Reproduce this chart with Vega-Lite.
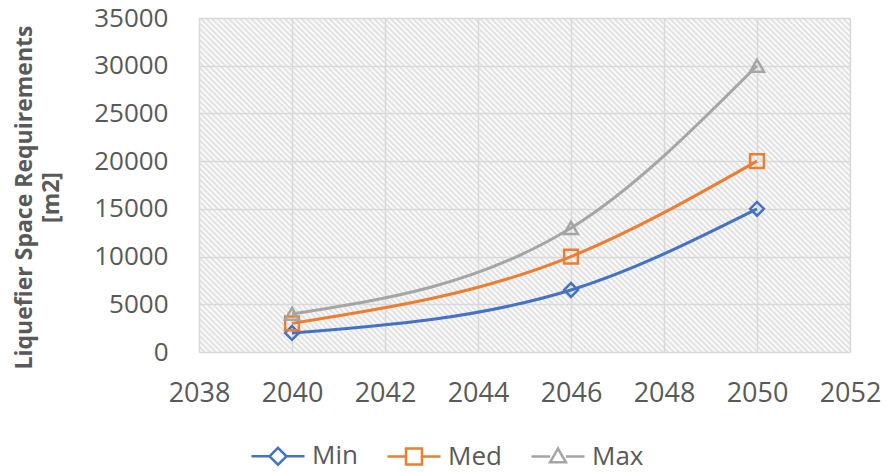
{
  "$schema": "https://vega.github.io/schema/vega-lite/v6.json",
  "autosize": "none",
  "width": 651,
  "height": 334,
  "padding": {"left": 199, "top": 18, "right": 35, "bottom": 120},
  "background": "white",
  "config": {
    "font": "Open Sans",
    "view": {
      "stroke": null,
      "fill": {
        "gradient": "linear",
        "x1": 0, "y1": 1, "x2": 1.3584, "y2": 0.303,
        "stops": [
          {"offset":0,"color":"#ddd"},{"offset":0.0025,"color":"#fff"},
          {"offset":0.005,"color":"#ddd"},{"offset":0.0075,"color":"#fff"},
          {"offset":0.01,"color":"#ddd"},{"offset":0.0125,"color":"#fff"},
          {"offset":0.015,"color":"#ddd"},{"offset":0.0175,"color":"#fff"},
          {"offset":0.02,"color":"#ddd"},{"offset":0.0225,"color":"#fff"},
          {"offset":0.025,"color":"#ddd"},{"offset":0.0275,"color":"#fff"},
          {"offset":0.03,"color":"#ddd"},{"offset":0.0325,"color":"#fff"},
          {"offset":0.035,"color":"#ddd"},{"offset":0.0375,"color":"#fff"},
          {"offset":0.04,"color":"#ddd"},{"offset":0.0425,"color":"#fff"},
          {"offset":0.045,"color":"#ddd"},{"offset":0.0475,"color":"#fff"},
          {"offset":0.05,"color":"#ddd"},{"offset":0.0525,"color":"#fff"},
          {"offset":0.055,"color":"#ddd"},{"offset":0.0575,"color":"#fff"},
          {"offset":0.06,"color":"#ddd"},{"offset":0.0625,"color":"#fff"},
          {"offset":0.065,"color":"#ddd"},{"offset":0.0675,"color":"#fff"},
          {"offset":0.07,"color":"#ddd"},{"offset":0.0725,"color":"#fff"},
          {"offset":0.075,"color":"#ddd"},{"offset":0.0775,"color":"#fff"},
          {"offset":0.08,"color":"#ddd"},{"offset":0.0825,"color":"#fff"},
          {"offset":0.085,"color":"#ddd"},{"offset":0.0875,"color":"#fff"},
          {"offset":0.09,"color":"#ddd"},{"offset":0.0925,"color":"#fff"},
          {"offset":0.095,"color":"#ddd"},{"offset":0.0975,"color":"#fff"},
          {"offset":0.1,"color":"#ddd"},{"offset":0.1025,"color":"#fff"},
          {"offset":0.105,"color":"#ddd"},{"offset":0.1075,"color":"#fff"},
          {"offset":0.11,"color":"#ddd"},{"offset":0.1125,"color":"#fff"},
          {"offset":0.115,"color":"#ddd"},{"offset":0.1175,"color":"#fff"},
          {"offset":0.12,"color":"#ddd"},{"offset":0.1225,"color":"#fff"},
          {"offset":0.125,"color":"#ddd"},{"offset":0.1275,"color":"#fff"},
          {"offset":0.13,"color":"#ddd"},{"offset":0.1325,"color":"#fff"},
          {"offset":0.135,"color":"#ddd"},{"offset":0.1375,"color":"#fff"},
          {"offset":0.14,"color":"#ddd"},{"offset":0.1425,"color":"#fff"},
          {"offset":0.145,"color":"#ddd"},{"offset":0.1475,"color":"#fff"},
          {"offset":0.15,"color":"#ddd"},{"offset":0.1525,"color":"#fff"},
          {"offset":0.155,"color":"#ddd"},{"offset":0.1575,"color":"#fff"},
          {"offset":0.16,"color":"#ddd"},{"offset":0.1625,"color":"#fff"},
          {"offset":0.165,"color":"#ddd"},{"offset":0.1675,"color":"#fff"},
          {"offset":0.17,"color":"#ddd"},{"offset":0.1725,"color":"#fff"},
          {"offset":0.175,"color":"#ddd"},{"offset":0.1775,"color":"#fff"},
          {"offset":0.18,"color":"#ddd"},{"offset":0.1825,"color":"#fff"},
          {"offset":0.185,"color":"#ddd"},{"offset":0.1875,"color":"#fff"},
          {"offset":0.19,"color":"#ddd"},{"offset":0.1925,"color":"#fff"},
          {"offset":0.195,"color":"#ddd"},{"offset":0.1975,"color":"#fff"},
          {"offset":0.2,"color":"#ddd"},{"offset":0.2025,"color":"#fff"},
          {"offset":0.205,"color":"#ddd"},{"offset":0.2075,"color":"#fff"},
          {"offset":0.21,"color":"#ddd"},{"offset":0.2125,"color":"#fff"},
          {"offset":0.215,"color":"#ddd"},{"offset":0.2175,"color":"#fff"},
          {"offset":0.22,"color":"#ddd"},{"offset":0.2225,"color":"#fff"},
          {"offset":0.225,"color":"#ddd"},{"offset":0.2275,"color":"#fff"},
          {"offset":0.23,"color":"#ddd"},{"offset":0.2325,"color":"#fff"},
          {"offset":0.235,"color":"#ddd"},{"offset":0.2375,"color":"#fff"},
          {"offset":0.24,"color":"#ddd"},{"offset":0.2425,"color":"#fff"},
          {"offset":0.245,"color":"#ddd"},{"offset":0.2475,"color":"#fff"},
          {"offset":0.25,"color":"#ddd"},{"offset":0.2525,"color":"#fff"},
          {"offset":0.255,"color":"#ddd"},{"offset":0.2575,"color":"#fff"},
          {"offset":0.26,"color":"#ddd"},{"offset":0.2625,"color":"#fff"},
          {"offset":0.265,"color":"#ddd"},{"offset":0.2675,"color":"#fff"},
          {"offset":0.27,"color":"#ddd"},{"offset":0.2725,"color":"#fff"},
          {"offset":0.275,"color":"#ddd"},{"offset":0.2775,"color":"#fff"},
          {"offset":0.28,"color":"#ddd"},{"offset":0.2825,"color":"#fff"},
          {"offset":0.285,"color":"#ddd"},{"offset":0.2875,"color":"#fff"},
          {"offset":0.29,"color":"#ddd"},{"offset":0.2925,"color":"#fff"},
          {"offset":0.295,"color":"#ddd"},{"offset":0.2975,"color":"#fff"},
          {"offset":0.3,"color":"#ddd"},{"offset":0.3025,"color":"#fff"},
          {"offset":0.305,"color":"#ddd"},{"offset":0.3075,"color":"#fff"},
          {"offset":0.31,"color":"#ddd"},{"offset":0.3125,"color":"#fff"},
          {"offset":0.315,"color":"#ddd"},{"offset":0.3175,"color":"#fff"},
          {"offset":0.32,"color":"#ddd"},{"offset":0.3225,"color":"#fff"},
          {"offset":0.325,"color":"#ddd"},{"offset":0.3275,"color":"#fff"},
          {"offset":0.33,"color":"#ddd"},{"offset":0.3325,"color":"#fff"},
          {"offset":0.335,"color":"#ddd"},{"offset":0.3375,"color":"#fff"},
          {"offset":0.34,"color":"#ddd"},{"offset":0.3425,"color":"#fff"},
          {"offset":0.345,"color":"#ddd"},{"offset":0.3475,"color":"#fff"},
          {"offset":0.35,"color":"#ddd"},{"offset":0.3525,"color":"#fff"},
          {"offset":0.355,"color":"#ddd"},{"offset":0.3575,"color":"#fff"},
          {"offset":0.36,"color":"#ddd"},{"offset":0.3625,"color":"#fff"},
          {"offset":0.365,"color":"#ddd"},{"offset":0.3675,"color":"#fff"},
          {"offset":0.37,"color":"#ddd"},{"offset":0.3725,"color":"#fff"},
          {"offset":0.375,"color":"#ddd"},{"offset":0.3775,"color":"#fff"},
          {"offset":0.38,"color":"#ddd"},{"offset":0.3825,"color":"#fff"},
          {"offset":0.385,"color":"#ddd"},{"offset":0.3875,"color":"#fff"},
          {"offset":0.39,"color":"#ddd"},{"offset":0.3925,"color":"#fff"},
          {"offset":0.395,"color":"#ddd"},{"offset":0.3975,"color":"#fff"},
          {"offset":0.4,"color":"#ddd"},{"offset":0.4025,"color":"#fff"},
          {"offset":0.405,"color":"#ddd"},{"offset":0.4075,"color":"#fff"},
          {"offset":0.41,"color":"#ddd"},{"offset":0.4125,"color":"#fff"},
          {"offset":0.415,"color":"#ddd"},{"offset":0.4175,"color":"#fff"},
          {"offset":0.42,"color":"#ddd"},{"offset":0.4225,"color":"#fff"},
          {"offset":0.425,"color":"#ddd"},{"offset":0.4275,"color":"#fff"},
          {"offset":0.43,"color":"#ddd"},{"offset":0.4325,"color":"#fff"},
          {"offset":0.435,"color":"#ddd"},{"offset":0.4375,"color":"#fff"},
          {"offset":0.44,"color":"#ddd"},{"offset":0.4425,"color":"#fff"},
          {"offset":0.445,"color":"#ddd"},{"offset":0.4475,"color":"#fff"},
          {"offset":0.45,"color":"#ddd"},{"offset":0.4525,"color":"#fff"},
          {"offset":0.455,"color":"#ddd"},{"offset":0.4575,"color":"#fff"},
          {"offset":0.46,"color":"#ddd"},{"offset":0.4625,"color":"#fff"},
          {"offset":0.465,"color":"#ddd"},{"offset":0.4675,"color":"#fff"},
          {"offset":0.47,"color":"#ddd"},{"offset":0.4725,"color":"#fff"},
          {"offset":0.475,"color":"#ddd"},{"offset":0.4775,"color":"#fff"},
          {"offset":0.48,"color":"#ddd"},{"offset":0.4825,"color":"#fff"},
          {"offset":0.485,"color":"#ddd"},{"offset":0.4875,"color":"#fff"},
          {"offset":0.49,"color":"#ddd"},{"offset":0.4925,"color":"#fff"},
          {"offset":0.495,"color":"#ddd"},{"offset":0.4975,"color":"#fff"},
          {"offset":0.5,"color":"#ddd"},{"offset":0.5025,"color":"#fff"},
          {"offset":0.505,"color":"#ddd"},{"offset":0.5075,"color":"#fff"},
          {"offset":0.51,"color":"#ddd"},{"offset":0.5125,"color":"#fff"},
          {"offset":0.515,"color":"#ddd"},{"offset":0.5175,"color":"#fff"},
          {"offset":0.52,"color":"#ddd"},{"offset":0.5225,"color":"#fff"},
          {"offset":0.525,"color":"#ddd"},{"offset":0.5275,"color":"#fff"},
          {"offset":0.53,"color":"#ddd"},{"offset":0.5325,"color":"#fff"},
          {"offset":0.535,"color":"#ddd"},{"offset":0.5375,"color":"#fff"},
          {"offset":0.54,"color":"#ddd"},{"offset":0.5425,"color":"#fff"},
          {"offset":0.545,"color":"#ddd"},{"offset":0.5475,"color":"#fff"},
          {"offset":0.55,"color":"#ddd"},{"offset":0.5525,"color":"#fff"},
          {"offset":0.555,"color":"#ddd"},{"offset":0.5575,"color":"#fff"},
          {"offset":0.56,"color":"#ddd"},{"offset":0.5625,"color":"#fff"},
          {"offset":0.565,"color":"#ddd"},{"offset":0.5675,"color":"#fff"},
          {"offset":0.57,"color":"#ddd"},{"offset":0.5725,"color":"#fff"},
          {"offset":0.575,"color":"#ddd"},{"offset":0.5775,"color":"#fff"},
          {"offset":0.58,"color":"#ddd"},{"offset":0.5825,"color":"#fff"},
          {"offset":0.585,"color":"#ddd"},{"offset":0.5875,"color":"#fff"},
          {"offset":0.59,"color":"#ddd"},{"offset":0.5925,"color":"#fff"},
          {"offset":0.595,"color":"#ddd"},{"offset":0.5975,"color":"#fff"},
          {"offset":0.6,"color":"#ddd"},{"offset":0.6025,"color":"#fff"},
          {"offset":0.605,"color":"#ddd"},{"offset":0.6075,"color":"#fff"},
          {"offset":0.61,"color":"#ddd"},{"offset":0.6125,"color":"#fff"},
          {"offset":0.615,"color":"#ddd"},{"offset":0.6175,"color":"#fff"},
          {"offset":0.62,"color":"#ddd"},{"offset":0.6225,"color":"#fff"},
          {"offset":0.625,"color":"#ddd"},{"offset":0.6275,"color":"#fff"},
          {"offset":0.63,"color":"#ddd"},{"offset":0.6325,"color":"#fff"},
          {"offset":0.635,"color":"#ddd"},{"offset":0.6375,"color":"#fff"},
          {"offset":0.64,"color":"#ddd"},{"offset":0.6425,"color":"#fff"},
          {"offset":0.645,"color":"#ddd"},{"offset":0.6475,"color":"#fff"},
          {"offset":0.65,"color":"#ddd"},{"offset":0.6525,"color":"#fff"},
          {"offset":0.655,"color":"#ddd"},{"offset":0.6575,"color":"#fff"},
          {"offset":0.66,"color":"#ddd"},{"offset":0.6625,"color":"#fff"},
          {"offset":0.665,"color":"#ddd"},{"offset":0.6675,"color":"#fff"},
          {"offset":0.67,"color":"#ddd"},{"offset":0.6725,"color":"#fff"},
          {"offset":0.675,"color":"#ddd"},{"offset":0.6775,"color":"#fff"},
          {"offset":0.68,"color":"#ddd"},{"offset":0.6825,"color":"#fff"},
          {"offset":0.685,"color":"#ddd"},{"offset":0.6875,"color":"#fff"},
          {"offset":0.69,"color":"#ddd"},{"offset":0.6925,"color":"#fff"},
          {"offset":0.695,"color":"#ddd"},{"offset":0.6975,"color":"#fff"},
          {"offset":0.7,"color":"#ddd"},{"offset":0.7025,"color":"#fff"},
          {"offset":0.705,"color":"#ddd"},{"offset":0.7075,"color":"#fff"},
          {"offset":0.71,"color":"#ddd"},{"offset":0.7125,"color":"#fff"},
          {"offset":0.715,"color":"#ddd"},{"offset":0.7175,"color":"#fff"},
          {"offset":0.72,"color":"#ddd"},{"offset":0.7225,"color":"#fff"},
          {"offset":0.725,"color":"#ddd"},{"offset":0.7275,"color":"#fff"},
          {"offset":0.73,"color":"#ddd"},{"offset":0.7325,"color":"#fff"},
          {"offset":0.735,"color":"#ddd"},{"offset":0.7375,"color":"#fff"},
          {"offset":0.74,"color":"#ddd"},{"offset":0.7425,"color":"#fff"},
          {"offset":0.745,"color":"#ddd"},{"offset":0.7475,"color":"#fff"},
          {"offset":0.75,"color":"#ddd"},{"offset":0.7525,"color":"#fff"},
          {"offset":0.755,"color":"#ddd"},{"offset":0.7575,"color":"#fff"},
          {"offset":0.76,"color":"#ddd"},{"offset":0.7625,"color":"#fff"},
          {"offset":0.765,"color":"#ddd"},{"offset":0.7675,"color":"#fff"},
          {"offset":0.77,"color":"#ddd"},{"offset":0.7725,"color":"#fff"},
          {"offset":0.775,"color":"#ddd"},{"offset":0.7775,"color":"#fff"},
          {"offset":0.78,"color":"#ddd"},{"offset":0.7825,"color":"#fff"},
          {"offset":0.785,"color":"#ddd"},{"offset":0.7875,"color":"#fff"},
          {"offset":0.79,"color":"#ddd"},{"offset":0.7925,"color":"#fff"},
          {"offset":0.795,"color":"#ddd"},{"offset":0.7975,"color":"#fff"},
          {"offset":0.8,"color":"#ddd"},{"offset":0.8025,"color":"#fff"},
          {"offset":0.805,"color":"#ddd"},{"offset":0.8075,"color":"#fff"},
          {"offset":0.81,"color":"#ddd"},{"offset":0.8125,"color":"#fff"},
          {"offset":0.815,"color":"#ddd"},{"offset":0.8175,"color":"#fff"},
          {"offset":0.82,"color":"#ddd"},{"offset":0.8225,"color":"#fff"},
          {"offset":0.825,"color":"#ddd"},{"offset":0.8275,"color":"#fff"},
          {"offset":0.83,"color":"#ddd"},{"offset":0.8325,"color":"#fff"},
          {"offset":0.835,"color":"#ddd"},{"offset":0.8375,"color":"#fff"},
          {"offset":0.84,"color":"#ddd"},{"offset":0.8425,"color":"#fff"},
          {"offset":0.845,"color":"#ddd"},{"offset":0.8475,"color":"#fff"},
          {"offset":0.85,"color":"#ddd"},{"offset":0.8525,"color":"#fff"},
          {"offset":0.855,"color":"#ddd"},{"offset":0.8575,"color":"#fff"},
          {"offset":0.86,"color":"#ddd"},{"offset":0.8625,"color":"#fff"},
          {"offset":0.865,"color":"#ddd"},{"offset":0.8675,"color":"#fff"},
          {"offset":0.87,"color":"#ddd"},{"offset":0.8725,"color":"#fff"},
          {"offset":0.875,"color":"#ddd"},{"offset":0.8775,"color":"#fff"},
          {"offset":0.88,"color":"#ddd"},{"offset":0.8825,"color":"#fff"},
          {"offset":0.885,"color":"#ddd"},{"offset":0.8875,"color":"#fff"},
          {"offset":0.89,"color":"#ddd"},{"offset":0.8925,"color":"#fff"}
        ]
      }
    },
    "axis": {
      "labelFont": "Open Sans",
      "labelFontSize": 27,
      "labelColor": "#595959",
      "labelFlush": false,
      "gridColor": "#d9d9d9",
      "gridWidth": 1.5,
      "domain": false,
      "ticks": false
    },
    "legend": {"padding": 0}
  },
  "data": {
    "values": [
      {"year": 2040, "series": "Min", "value": 2000},
      {"year": 2046, "series": "Min", "value": 6500},
      {"year": 2050, "series": "Min", "value": 15000},
      {"year": 2040, "series": "Med", "value": 3000},
      {"year": 2046, "series": "Med", "value": 10000},
      {"year": 2050, "series": "Med", "value": 20000},
      {"year": 2040, "series": "Max", "value": 4000},
      {"year": 2046, "series": "Max", "value": 13000},
      {"year": 2050, "series": "Max", "value": 30000}
    ]
  },
  "encoding": {
    "x": {
      "field": "year",
      "type": "quantitative",
      "scale": {"domain": [2038, 2052], "nice": false, "zero": false},
      "axis": {
        "values": [2038, 2040, 2042, 2044, 2046, 2048, 2050, 2052],
        "format": "d",
        "title": null,
        "labelPadding": 28
      }
    },
    "y": {
      "field": "value",
      "type": "quantitative",
      "scale": {"domain": [0, 35000], "nice": false},
      "axis": {
        "values": [0, 5000, 10000, 15000, 20000, 25000, 30000, 35000],
        "format": "d",
        "labelFontSize": 26,
        "labelPadding": 31,
        "title": ["Liquefier Space Requirements", "[m2]"],
        "titleFont": "Open Sans",
        "titleFontSize": 23,
        "titleFontWeight": "bold",
        "titleColor": "#595959",
        "titleLineHeight": 27,
        "titlePadding": 30,
        "titleY": 179
      }
    }
  },
  "layer": [
    {
      "mark": {"type": "line", "interpolate": "monotone", "strokeWidth": 3},
      "encoding": {
        "color": {
          "field": "series",
          "type": "nominal",
          "sort": ["Min", "Med", "Max"],
          "scale": {"domain": ["Min", "Med", "Max"], "range": ["#4472c4", "#ed7d31", "#a5a5a5"]},
          "legend": {
            "orient": "none",
            "direction": "horizontal",
            "legendX": 51,
            "legendY": 410,
            "title": null,
            "labelFont": "Open Sans",
            "labelFontSize": 26,
            "labelColor": "#595959",
            "labelOffset": 6,
            "columnPadding": 24,
            "symbolSize": 2809,
            "symbolStrokeWidth": 2.5,
            "symbolFillColor": "transparent",
            "encode": {
              "symbols": {
                "update": {
                  "shape": {"signal": "datum.value === 'Min' ? 'M-1,0L-0.32,0M0.32,0L1,0M0,-0.32L0.32,0L0,0.32L-0.32,0Z' : datum.value === 'Med' ? 'M-1,0L-0.3,0M0.3,0L1,0M-0.3,-0.3L0.3,-0.3L0.3,0.3L-0.3,0.3Z' : 'M-1,0L-0.3,0M0.3,0L1,0M0,-0.3L0.3,0.22L-0.3,0.22Z'"},
                  "fill": {"value": "transparent"},
                  "strokeWidth": {"value": 2.5}
                }
              }
            }
          }
        }
      }
    },
    {
      "transform": [{"filter": "datum.series === 'Min'"}],
      "mark": {"type": "point", "shape": "diamond", "filled": false, "stroke": "#4472c4", "strokeWidth": 2.5, "opacity": 1, "size": 190}
    },
    {
      "transform": [{"filter": "datum.series === 'Med'"}],
      "mark": {"type": "point", "shape": "square", "filled": false, "stroke": "#ed7d31", "strokeWidth": 2.5, "opacity": 1, "size": 190}
    },
    {
      "transform": [{"filter": "datum.series === 'Max'"}],
      "mark": {"type": "point", "shape": "triangle-up", "filled": false, "stroke": "#a5a5a5", "strokeWidth": 2.5, "opacity": 1, "size": 190}
    }
  ]
}
